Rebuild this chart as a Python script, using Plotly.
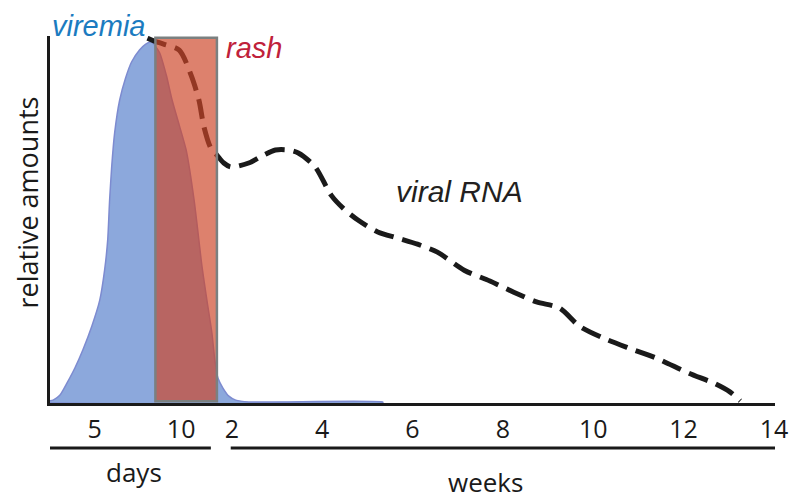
import plotly.graph_objects as go

# x positions are on a "day" scale; the weeks part is squeezed in via week_pos()
day_ticks = [5, 10]
week_ticks = [2, 4, 6, 8, 10, 12, 14]


def week_pos(w):
    return 12.93 + (w - 2) * 2.615


# viremia outline (left flank, peak, right flank, tail), relative amount 0..1
viremia_x = [2.41, 2.59, 2.99, 3.39, 3.85, 4.31, 4.83, 5.29, 5.57, 5.75, 5.86, 5.98,
             6.15, 6.44, 6.78, 7.13, 7.59, 7.93, 8.28, 8.74, 9.14, 9.48, 9.89, 10.29,
             10.75, 11.21, 11.49, 11.78, 11.95, 12.13, 12.41, 12.76, 13.16, 13.91,
             21.67, 21.67, 2.41]
viremia_y = [0.006, 0.008, 0.022, 0.055, 0.097, 0.147, 0.213, 0.285, 0.368, 0.452,
             0.562, 0.654, 0.748, 0.839, 0.900, 0.945, 0.978, 0.994, 1.0, 0.972,
             0.909, 0.839, 0.770, 0.701, 0.562, 0.377, 0.285, 0.194, 0.119, 0.069,
             0.042, 0.019, 0.008, 0.003, 0.003, 0.0, 0.0]

# viral RNA
rna_x = [8.05, 8.45, 9.02, 9.89, 10.57, 11.03, 11.32, 11.72, 12.07, 12.47, 12.87,
         13.91, 14.77, 15.46, 16.21, 16.78, 17.76, 18.68, 19.37, 20.23, 21.38,
         22.53, 23.68, 24.83, 26.38, 27.87, 29.25, 30.57, 31.90, 33.05, 34.43,
         35.92, 37.47, 39.37, 40.92, 41.78, 42.36]
rna_y = [1.011, 1.003, 0.994, 0.978, 0.909, 0.839, 0.765, 0.706, 0.687, 0.665,
         0.654, 0.665, 0.687, 0.701, 0.701, 0.693, 0.654, 0.576, 0.540, 0.507,
         0.474, 0.457, 0.440, 0.418, 0.368, 0.338, 0.307, 0.280, 0.263, 0.213,
         0.180, 0.152, 0.125, 0.083, 0.053, 0.030, 0.006]

rash_start, rash_end = 8.51, 12.07

fig = go.Figure()

fig.add_trace(go.Scatter(
    x=viremia_x, y=viremia_y, mode="lines", fill="toself",
    fillcolor="#8ca8dc", line=dict(color="#7d8bd0", width=1.5, shape="spline", smoothing=0.6),
    hoverinfo="skip", showlegend=False))

fig.add_trace(go.Scatter(
    x=rna_x, y=rna_y, mode="lines",
    line=dict(color="#1a1a1a", width=5, dash="20px,9px", shape="spline", smoothing=0.8),
    hoverinfo="skip", showlegend=False))

# rash window sits above the curves
fig.add_shape(type="rect", xref="x", yref="y", x0=rash_start, x1=rash_end, y0=0.005, y1=1.012,
              fillcolor="rgba(205,70,40,0.68)", line=dict(color="#7b8080", width=2.5), layer="above")

tickvals = day_ticks + [week_pos(w) for w in week_ticks]
ticktext = [str(d) for d in day_ticks] + [str(w) for w in week_ticks]

# under-brackets for days / weeks
fig.add_shape(type="line", xref="x", yref="paper", x0=2.41, x1=11.72, y0=-0.1226, y1=-0.1226,
              line=dict(color="#1a1a1a", width=3))
fig.add_shape(type="line", xref="x", yref="paper", x0=12.87, x1=44.77, y0=-0.1226, y1=-0.1226,
              line=dict(color="#1a1a1a", width=3))

sans = "Open Sans, sans-serif"
ital = "Liberation Sans, Arial, sans-serif"
fig.add_annotation(x=7.3, y=-0.188, xref="x", yref="paper", text="days", showarrow=False,
                   font=dict(family=sans, size=26, color="#1a1a1a"), xanchor="center", yanchor="middle")
fig.add_annotation(x=27.59, y=-0.215, xref="x", yref="paper", text="weeks", showarrow=False,
                   font=dict(family=sans, size=26, color="#1a1a1a"), xanchor="center", yanchor="middle")
fig.add_annotation(x=-0.031, y=0.545, xref="paper", yref="paper", text="relative amounts",
                   showarrow=False, textangle=-90, font=dict(family=sans, size=27, color="#1a1a1a"),
                   xanchor="center", yanchor="middle")
fig.add_annotation(x=0.0, y=1.076, xref="paper", yref="paper", text="<i>viremia</i>",
                   showarrow=False, font=dict(family=ital, size=29, color="#1b7bc0"),
                   xanchor="left", yanchor="top")
fig.add_annotation(x=12.5, y=0.985, xref="x", yref="y", text="<i>rash</i>",
                   showarrow=False, font=dict(family=ital, size=29, color="#c0213a"),
                   xanchor="left", yanchor="middle")
fig.add_annotation(x=22.3, y=0.587, xref="x", yref="y", text="<i>viral RNA</i>",
                   showarrow=False, font=dict(family=ital, size=30, color="#231f20"),
                   xanchor="left", yanchor="middle")

fig.update_xaxes(range=[2.41, 44.37], showline=True, linecolor="#1a1a1a", linewidth=2.5,
                 showgrid=False, zeroline=False, ticks="", tickvals=tickvals, ticktext=ticktext,
                 tickfont=dict(family=sans, size=25, color="#1a1a1a"),
                 ticklabelstandoff=2, fixedrange=True)
fig.update_yaxes(range=[0, 1.017], showline=True, linecolor="#1a1a1a", linewidth=2.5,
                 showgrid=False, zeroline=False, showticklabels=False, ticks="", fixedrange=True)

# page has an 8px body margin, so the figure is a bit smaller than the window
fig.update_layout(width=792, height=492, margin=dict(l=42, r=20, t=28, b=97),
                  plot_bgcolor="white", paper_bgcolor="white")

fig.write_html("out.html")
